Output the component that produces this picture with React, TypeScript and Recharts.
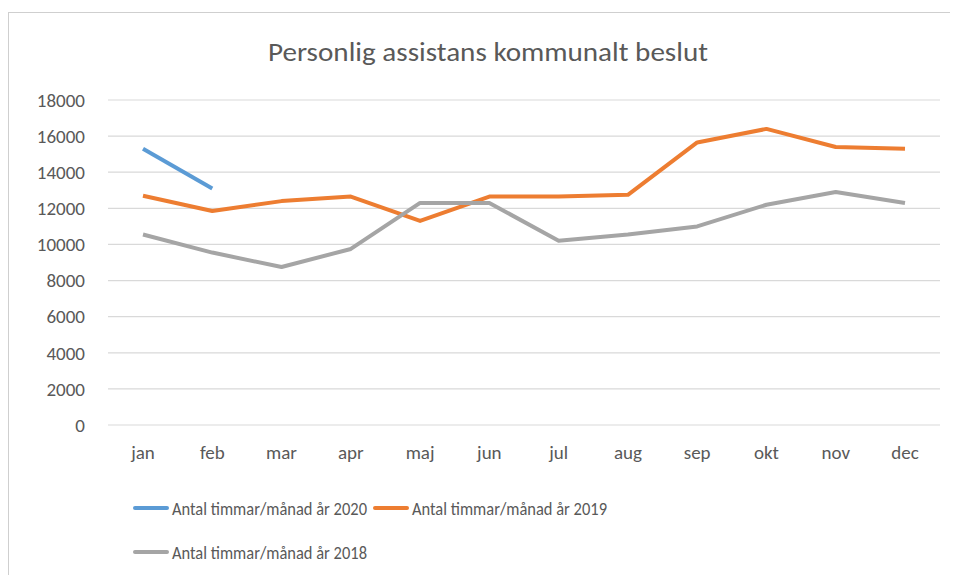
import React from "react";
import { LineChart, Line, XAxis, YAxis, CartesianGrid } from "recharts";

// --- Data ---
const months = ["jan", "feb", "mar", "apr", "maj", "jun", "jul", "aug", "sep", "okt", "nov", "dec"];
const hours2020 = [15300, 13100, null, null, null, null, null, null, null, null, null, null];
const hours2019 = [12700, 11850, 12400, 12650, 11300, 12650, 12650, 12750, 15650, 16400, 15400, 15300];
const hours2018 = [10550, 9550, 8750, 9750, 12300, 12300, 10200, 10550, 11000, 12200, 12900, 12300];
const yTicks = [0, 2000, 4000, 6000, 8000, 10000, 12000, 14000, 16000, 18000];

const series = [
  { key: "y2020", name: "Antal timmar/månad år 2020", color: "#5b9bd5" },
  { key: "y2019", name: "Antal timmar/månad år 2019", color: "#ed7d31" },
  { key: "y2018", name: "Antal timmar/månad år 2018", color: "#a5a5a5" },
];

const data = months.map((m, i) => ({
  month: m,
  y2020: hours2020[i],
  y2019: hours2019[i],
  y2018: hours2018[i],
}));

const font = "Carlito, 'Liberation Sans Narrow', 'Open Sans', sans-serif";
const textColor = "#595959";

// legend slots: two per row
const legendX = [133, 373];
const legendY = [508, 552];

export default function App() {
  return (
    <div style={{ position: "relative", width: 958, height: 583, margin: -8, background: "#fff", fontFamily: font, overflow: "hidden" }}>
      <div style={{ position: "absolute", left: 0, top: 0 }}>
        <LineChart width={958} height={583} data={data} margin={{ top: 100, right: 18, bottom: 118, left: 38 }}>
          <CartesianGrid vertical={false} stroke="#d9d9d9" strokeWidth={1.2} />
          <XAxis
            dataKey="month"
            axisLine={false}
            tickLine={false}
            height={40}
            tickMargin={15}
            padding={{ left: 35, right: 35 }}
            tick={{ fill: textColor, fontSize: 19, fontFamily: font }}
          />
          <YAxis
            domain={[0, 18000]}
            ticks={yTicks}
            axisLine={false}
            tickLine={false}
            width={70}
            tickMargin={17}
            tick={{ fill: textColor, fontSize: 19, fontFamily: font }}
          />
          {series.map((s) => (
            <Line
              key={s.key}
              dataKey={s.key}
              name={s.name}
              stroke={s.color}
              strokeWidth={4}
              dot={false}
              activeDot={false}
              type="linear"
              strokeLinejoin="round"
              isAnimationActive={false}
            />
          ))}
        </LineChart>
      </div>

      {/* title, frame and legend */}
      <svg style={{ position: "absolute", left: 0, top: 0, pointerEvents: "none" }} width={958} height={583}>
        <rect x={8.5} y={12.5} width={980} height={600} fill="none" stroke="#cfcfcf" strokeWidth={1} />
        <text x={488} y={61} textAnchor="middle" fill={textColor} fontSize={26} fontFamily={font}
          textLength={440} lengthAdjust="spacingAndGlyphs">
          Personlig assistans kommunalt beslut
        </text>
        {series.map((s, i) => {
          const x = legendX[i % 2];
          const y = legendY[Math.floor(i / 2)];
          return (
            <g key={s.key}>
              <line x1={x + 2} x2={x + 34} y1={y} y2={y} stroke={s.color} strokeWidth={4} strokeLinecap="round" />
              <text x={x + 39} y={y + 6.5} fill={textColor} fontSize={18} fontFamily={font}
                textLength={195} lengthAdjust="spacingAndGlyphs">
                {s.name}
              </text>
            </g>
          );
        })}
      </svg>
    </div>
  );
}
